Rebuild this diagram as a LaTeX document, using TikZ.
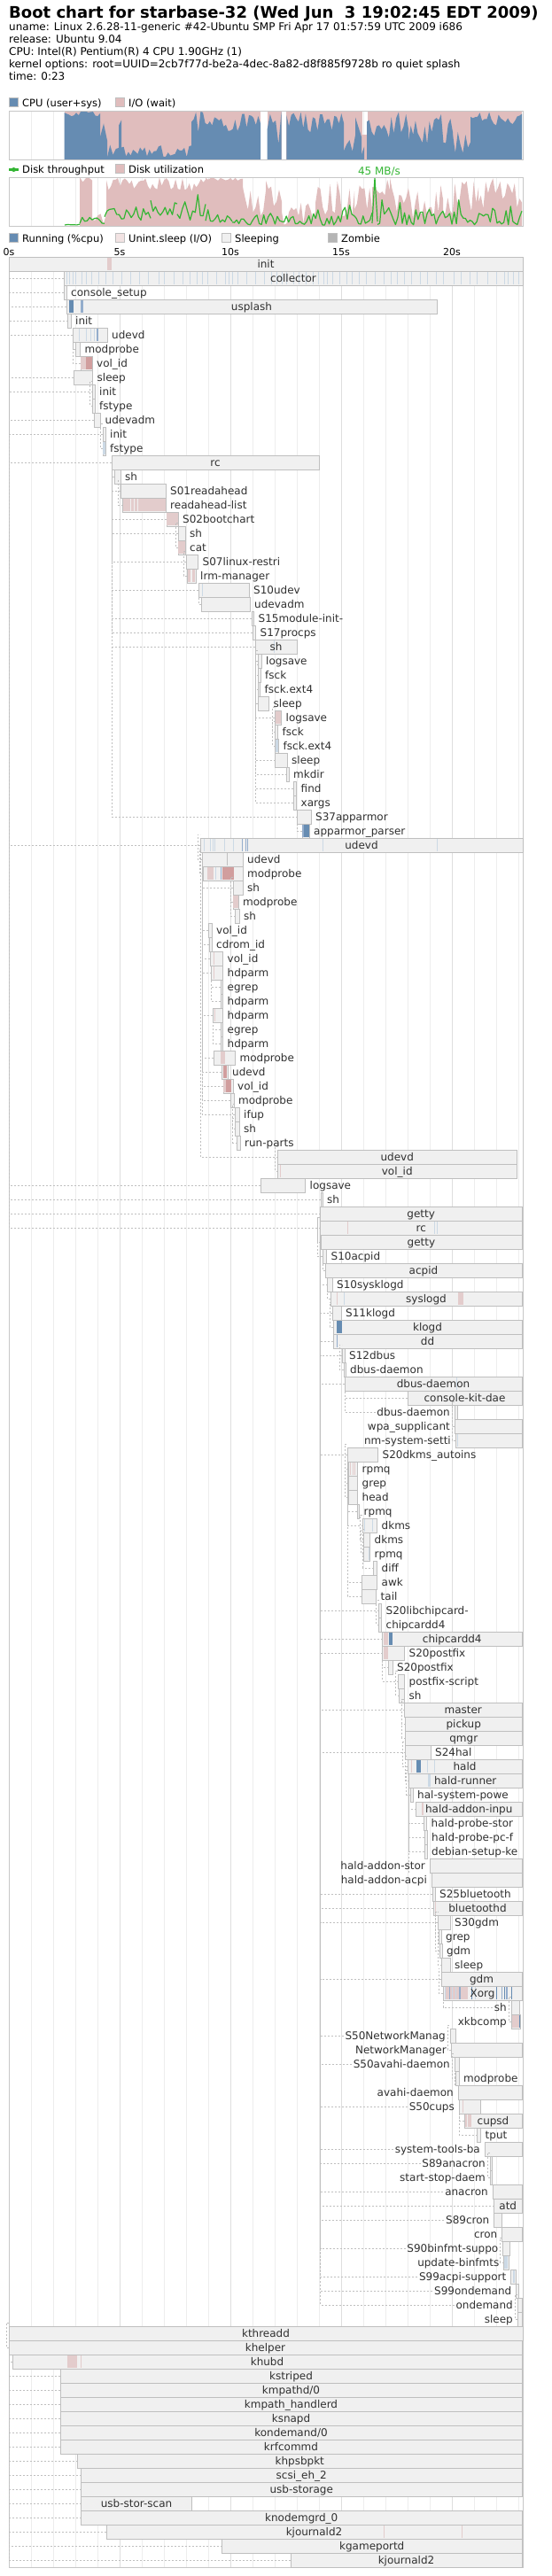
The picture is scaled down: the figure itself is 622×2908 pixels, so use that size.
\documentclass[tikz,border=0pt]{standalone}
\usepackage{fontspec}
\setmainfont{DejaVu Sans}
\usetikzlibrary{calc}

\definecolor{cpuc}{rgb}{0.40,0.55,0.70}
\definecolor{iowait}{rgb}{0.88,0.74,0.74}
\definecolor{diskc}{rgb}{0.20,0.71,0.20}
\definecolor{procS}{gray}{0.94}
\definecolor{procZ}{gray}{0.71}
\definecolor{procD}{rgb}{0.95,0.89,0.89}
\definecolor{pinkL}{rgb}{0.89,0.80,0.80}
\definecolor{pinkD}{rgb}{0.82,0.62,0.62}
\definecolor{lblue}{rgb}{0.80,0.85,0.90}
\definecolor{mblue}{rgb}{0.58,0.68,0.80}
\definecolor{procborder}{gray}{0.75}
\definecolor{chartframe}{gray}{0.78}
\definecolor{gridc}{gray}{0.93}
\definecolor{gridb}{gray}{0.87}
\definecolor{depc}{gray}{0.75}
\definecolor{proctext}{gray}{0.19}

\newcommand\lblfont{\fontsize{12}{14}\selectfont}
\newdimen\lblw \newdimen\boxw \newdimen\tmpd \newdimen\depdx
\newcount\lblmode

\tikzset{
  procbox/.style={fill=procS, draw=procborder, line width=1pt},
  dep/.style={draw=depc, line width=1pt, dash pattern=on 2pt off 2pt},
  lbl/.style={font=\lblfont, text=proctext, inner sep=0pt},
  hdr/.style={font=\fontsize{12}{14}\selectfont, inner sep=0pt, anchor=base west},
  leg/.style={font=\fontsize{11.5}{14}\selectfont, inner sep=0pt, anchor=base west},
  axis/.style={font=\fontsize{11}{13}\selectfont, inner sep=0pt, anchor=base},
  gridline/.style={draw=gridc, line width=1pt},
  gridbold/.style={draw=gridb, line width=1pt},
  frameline/.style={draw=chartframe, line width=1pt},
  tput/.style={draw=diskc, line width=1.2pt, line join=round}
}

% label widths are measured before the picture
\newcommand\prowmeasure[4]{%
  \settowidth\lblw{\lblfont #4}%
  \expandafter\xdef\csname lblw#1\endcsname{\the\lblw}}

% label inside the box, right of it, or left of it
\newcommand\lblplace[3]{%
  \lblw=\csname lblw#1\endcsname\relax
  \boxw=#3pt \advance\boxw by -#2pt
  \tmpd=\lblw \advance\tmpd by 10pt
  \lblmode=0
  \ifdim\tmpd>\boxw
    \lblmode=1
    \tmpd=#3pt \advance\tmpd by 5pt \advance\tmpd by \lblw
    \ifdim\tmpd>590pt \lblmode=2 \fi
  \fi}

\newcommand\prowbox[4]{%
  \pgfmathsetmacro\ptop{274+16*#1}%
  \filldraw[procbox] (#2,\ptop) rectangle (#3,\ptop+16);
  \coordinate (p#1) at (#2,\ptop);
  \lblplace{#1}{#2}{#3}%
  \ifnum\lblmode=2
    \pgfmathsetmacro\sx{#2-7-\lblw}%
    \coordinate (p#1s) at (\sx,\ptop+8);
  \else
    \coordinate (p#1s) at (#2,\ptop+8);
  \fi}

\newcommand\prowlabel[4]{%
  \pgfmathsetmacro\ptop{274+16*#1}%
  \lblplace{#1}{#2}{#3}%
  \ifcase\lblmode
    \node[lbl,anchor=base] (l#1) at ({(#2+#3)/2},\ptop+12) {#4};
  \or
    \node[lbl,anchor=base west] (l#1) at (#3+5,\ptop+12) {#4};
  \else
    \node[lbl,anchor=base east] (l#1) at (#2-5,\ptop+12) {#4};
  \fi}

\newcommand\procact[4]{%
  \pgfmathsetmacro\ptop{274+16*#1}%
  \fill[#4] (#2,\ptop+1) rectangle (#3,\ptop+15);}

% dotted line from a child row to its parent row
\newcommand\procdep[2]{%
  \pgfextractx{\depdx}{\pgfpointanchor{p#1}{center}}%
  \pgfextractx{\boxw}{\pgfpointanchor{p#2}{center}}%
  \advance\depdx by -\boxw
  \ifdim\depdx<0pt \depdx=-\depdx\fi
  \ifdim\depdx<3pt
    \draw[dep] ($(p#1)+(0,8)$) -| ($(p#2)+(-3,-4)$) -- ($(p#2)+(0,-4)$);
  \else
    \pgfextractx{\tmpd}{\pgfpointanchor{p#1s}{center}}%
    \ifdim\tmpd<\boxw
      \draw[dep] (p#1 -| p#2) -- (p#2);
    \else
      \draw[dep] (p#1s) -| (p#2);
    \fi
  \fi}

\newcommand\proctree{%
\prow{1}{10}{590}{init}%
\prow{2}{72}{590}{collector}%
\prow{3}{72}{75}{console\_setup}%
\prow{4}{75}{493}{usplash}%
\prow{5}{76.5}{80}{init}%
\prow{6}{82}{121}{udevd}%
\prow{7}{85}{90.5}{modprobe}%
\prow{8}{91}{104}{vol\_id}%
\prow{9}{83}{104.5}{sleep}%
\prow{10}{104.5}{107}{init}%
\prow{11}{104.5}{107}{fstype}%
\prow{12}{106}{113.5}{udevadm}%
\prow{13}{116}{119}{init}%
\prow{14}{116}{119}{fstype}%
\prow{15}{126}{360}{rc}%
\prow{16}{129}{136}{sh}%
\prow{17}{136}{187}{S01readahead}%
\prow{18}{138.5}{187}{readahead-list}%
\prow{19}{188}{201}{S02bootchart}%
\prow{20}{201}{209}{sh}%
\prow{21}{201}{209}{cat}%
\prow{22}{210}{223.5}{S07linux-restri}%
\prow{23}{211}{221}{lrm-manager}%
\prow{24}{224}{281}{S10udev}%
\prow{25}{227}{282}{udevadm}%
\prow{26}{284}{286.5}{S15module-init-}%
\prow{27}{285}{288.5}{S17procps}%
\prow{28}{288}{335}{sh}%
\prow{29}{291}{295}{logsave}%
\prow{30}{291.5}{294}{fsck}%
\prow{31}{291.5}{293.5}{fsck.ext4}%
\prow{32}{291}{303.5}{sleep}%
\prow{33}{310}{317.5}{logsave}%
\prow{34}{310.5}{313.5}{fsck}%
\prow{35}{310.5}{314.5}{fsck.ext4}%
\prow{36}{310.5}{324}{sleep}%
\prow{37}{323.5}{326}{mkdir}%
\prow{38}{331}{334.5}{find}%
\prow{39}{331}{334.5}{xargs}%
\prow{40}{335.5}{351}{S37apparmor}%
\prow{41}{341}{349}{apparmor\_parser}%
\prow{42}{226}{590}{udevd}%
\prow{43}{228}{274}{udevd}%
\prow{44}{229}{274}{modprobe}%
\prow{45}{263}{274}{sh}%
\prow{46}{263}{269}{modprobe}%
\prow{47}{265.5}{270}{sh}%
\prow{48}{235}{239}{vol\_id}%
\prow{49}{236}{239}{cdrom\_id}%
\prow{50}{237}{251.5}{vol\_id}%
\prow{51}{238.5}{251.5}{hdparm}%
\prow{52}{249}{251.5}{egrep}%
\prow{53}{249}{251.5}{hdparm}%
\prow{54}{240}{251.5}{hdparm}%
\prow{55}{249}{251.5}{egrep}%
\prow{56}{249}{251.5}{hdparm}%
\prow{57}{241}{265.5}{modprobe}%
\prow{58}{250}{257}{udevd}%
\prow{59}{252}{263}{vol\_id}%
\prow{60}{260}{264}{modprobe}%
\prow{61}{265}{270}{ifup}%
\prow{62}{265.5}{270}{sh}%
\prow{63}{267.5}{271}{run-parts}%
\prow{64}{313.5}{583}{udevd}%
\prow{65}{313.5}{583}{vol\_id}%
\prow{66}{294}{344.5}{logsave}%
\prow{67}{362}{364}{sh}%
\prow{68}{361.5}{589}{getty}%
\prow{69}{361.5}{589}{rc}%
\prow{70}{362}{589}{getty}%
\prow{71}{364}{368.5}{S10acpid}%
\prow{72}{367}{589}{acpid}%
\prow{73}{369.5}{375}{S10sysklogd}%
\prow{74}{373}{589}{syslogd}%
\prow{75}{375}{385}{S11klogd}%
\prow{76}{376}{589}{klogd}%
\prow{77}{376}{589}{dd}%
\prow{78}{386}{389}{S12dbus}%
\prow{79}{388}{390}{dbus-daemon}%
\prow{80}{389}{589}{dbus-daemon}%
\prow{81}{460}{589}{console-kit-dae}%
\prow{82}{513}{516}{dbus-daemon}%
\prow{83}{513}{589}{wpa\_supplicant}%
\prow{84}{514}{589}{nm-system-setti}%
\prow{85}{392}{426.5}{S20dkms\_autoins}%
\prow{86}{393}{403.5}{rpmq}%
\prow{87}{393}{403.5}{grep}%
\prow{88}{393}{403.5}{head}%
\prow{89}{403}{405.5}{rpmq}%
\prow{90}{409.5}{425.5}{dkms}%
\prow{91}{410.5}{417.5}{dkms}%
\prow{92}{410.5}{417.5}{rpmq}%
\prow{93}{421.5}{425.5}{diff}%
\prow{94}{408}{425.5}{awk}%
\prow{95}{408}{424.5}{tail}%
\prow{96}{427.5}{430.5}{S20libchipcard-}%
\prow{97}{427.5}{430.5}{chipcardd4}%
\prow{98}{431.5}{589}{chipcardd4}%
\prow{99}{431.5}{456.5}{S20postfix}%
\prow{100}{438.5}{443}{S20postfix}%
\prow{101}{449.5}{456.5}{postfix-script}%
\prow{102}{450.5}{456.5}{sh}%
\prow{103}{456.5}{589}{master}%
\prow{104}{457.5}{589}{pickup}%
\prow{105}{457.5}{589}{qmgr}%
\prow{106}{457.5}{486}{S24hal}%
\prow{107}{460}{589}{hald}%
\prow{108}{461.5}{589}{hald-runner}%
\prow{109}{463}{466}{hal-system-powe}%
\prow{110}{469.5}{589}{hald-addon-inpu}%
\prow{111}{478}{481.5}{hald-probe-stor}%
\prow{112}{479}{482}{hald-probe-pc-f}%
\prow{113}{479}{482}{debian-setup-ke}%
\prow{114}{485}{589}{hald-addon-stor}%
\prow{115}{487}{589}{hald-addon-acpi}%
\prow{116}{488}{491}{S25bluetooth}%
\prow{117}{489}{589}{bluetoothd}%
\prow{118}{494}{508}{S30gdm}%
\prow{119}{495.5}{498}{grep}%
\prow{120}{496.5}{499}{gdm}%
\prow{121}{498.5}{508}{sleep}%
\prow{122}{498}{589}{gdm}%
\prow{123}{500}{589}{Xorg}%
\prow{124}{577}{586.5}{sh}%
\prow{125}{577}{587.5}{xkbcomp}%
\prow{126}{508}{514}{S50NetworkManag}%
\prow{127}{509}{589}{NetworkManager}%
\prow{128}{513}{518}{S50avahi-daemon}%
\prow{129}{514.5}{518}{modprobe}%
\prow{130}{517}{589}{avahi-daemon}%
\prow{131}{518}{542.5}{S50cups}%
\prow{132}{524}{589}{cupsd}%
\prow{133}{538.5}{542.5}{tput}%
\prow{134}{547}{589}{system-tools-ba}%
\prow{135}{553}{555.5}{S89anacron}%
\prow{136}{553}{555.5}{start-stop-daem}%
\prow{137}{556}{589}{anacron}%
\prow{138}{557.5}{589}{atd}%
\prow{139}{557.5}{566.5}{S89cron}%
\prow{140}{566.5}{589}{cron}%
\prow{141}{567.5}{575.5}{S90binfmt-suppo}%
\prow{142}{568.5}{574}{update-binfmts}%
\prow{143}{576.5}{582.5}{S99acpi-support}%
\prow{144}{582.5}{585.5}{S99ondemand}%
\prow{145}{584}{589}{ondemand}%
\prow{146}{584}{589}{sleep}%
\prow{147}{10}{590}{kthreadd}%
\prow{148}{10}{589}{khelper}%
\prow{149}{14}{589}{khubd}%
\prow{150}{68}{589}{kstriped}%
\prow{151}{68}{589}{kmpathd/0}%
\prow{152}{68}{589}{kmpath\_handlerd}%
\prow{153}{68}{589}{ksnapd}%
\prow{154}{68}{589}{kondemand/0}%
\prow{155}{68}{589}{krfcommd}%
\prow{156}{87.5}{589}{khpsbpkt}%
\prow{157}{91.5}{589}{scsi\_eh\_2}%
\prow{158}{91.5}{589}{usb-storage}%
\prow{159}{91.5}{216.5}{usb-stor-scan}%
\prow{160}{91.5}{589}{knodemgrd\_0}%
\prow{161}{120}{589}{kjournald2}%
\prow{162}{250.5}{589}{kgameportd}%
\prow{163}{328}{589}{kjournald2}%
}

\begin{document}
\let\prow\prowmeasure
\proctree
\begin{tikzpicture}[x=1pt,y=-1pt]
\useasboundingbox (0,0) rectangle (622,2908);
\fill[white] (0,0) rectangle (622,2908);

% header
\node[hdr,font=\bfseries\fontsize{18}{22}\selectfont] (title) at (10,20) {Boot chart for starbase-32 (Wed Jun\ \ 3 19:02:45 EDT 2009)};
\node[hdr] (uname) at (10,34.5) {uname: Linux 2.6.28-11-generic \#42-Ubuntu SMP Fri Apr 17 01:57:59 UTC 2009 i686};
\node[hdr] (release) at (10,48.5) {release: Ubuntu 9.04};
\node[hdr] (cpuinfo) at (10,62.5) {CPU: Intel(R) Pentium(R) 4 CPU 1.90GHz (1)};
\node[hdr] (kopts) at (10,76.5) {kernel options: root=UUID=2cb7f77d-be2a-4dec-8a82-d8f885f9728b ro quiet splash};
\node[hdr] (boottime) at (10,90.5) {time: 0:23};

% cpu chart
\filldraw[fill=cpuc,draw=procborder] (10,110) rectangle (20,120);
\node[leg] (lcpu) at (25,120) {CPU (user+sys)};
\filldraw[fill=iowait,draw=procborder] (130,110) rectangle (140,120);
\node[leg] (lio) at (145,120) {I/O (wait)};
\foreach \s in {0,...,23} \draw[gridline] ({10+25*\s},125) -- ++(0,55);
\foreach \s in {0,5,...,20} \draw[gridbold] ({10+25*\s},125) -- ++(0,55);
\fill[iowait] (72.6,125) rectangle (294,180);
\fill[iowait] (301.6,125) rectangle (317.5,180);
\fill[iowait] (323.4,125) rectangle (409,180);
\fill[iowait] (409,152) rectangle (415,180);
\fill[iowait] (415,125) rectangle (589,180);
\pgfmathsetseed{2009}
\foreach \a/\b/\lo/\hi in {72.6/113/0.88/1, 113/121/0.3/1, 121/134/0.04/0.3, 134/137/0.6/0.95, 137/216/0.04/0.3, 216/294/0.55/1, 301.6/317.5/0.3/1, 323.4/388/0.55/1, 388/401/0.1/0.5, 401/408/0.4/1, 408/411/0/0.3, 414/461/0.4/1, 461/511/0.3/1, 511/531/0.1/0.6, 531/589/0.7/1}{
  \pgfmathtruncatemacro\n{max(2,(\b-\a)/2.5)}
  \fill[cpuc] (\a,180) -- plot[domain=\a:\b,samples=\n] (\x,{180-55*(\lo+(\hi-\lo)*rnd)}) -- (\b,180) -- cycle;
}
\draw[frameline] (10,125) rectangle (590,180);

% disk chart
\fill[diskc] (10,190) rectangle (21,193);
\fill[diskc] (15.5,191.5) circle (2.5);
\node[leg] (ltput) at (25,195) {Disk throughput};
\filldraw[fill=iowait,draw=procborder] (130,185) rectangle (140,195);
\node[leg] (lutil) at (145,195) {Disk utilization};
\node[hdr,anchor=base,text=diskc] (tputmax) at (428,197) {45 MB/s};
\foreach \s in {0,...,23} \draw[gridline] ({10+25*\s},200) -- ++(0,55);
\foreach \s in {0,5,...,20} \draw[gridbold] ({10+25*\s},200) -- ++(0,55);
\foreach \a/\b/\lo/\hi in {90/104/0.9/1, 104/120/0/0.25, 120/232/0.7/1, 232/274/0.92/1, 274/300/0.1/0.9, 300/318/0.3/1, 318/356/0/0.5, 356/400/0.1/1, 400/420/0.3/1, 420/440/0.6/1, 440/500/0.1/1, 500/540/0.2/1, 540/589/0.3/1}{
  \pgfmathtruncatemacro\n{max(2,(\b-\a)/2.5)}
  \fill[iowait] (\a,255) -- plot[domain=\a:\b,samples=\n] (\x,{255-55*(\lo+(\hi-\lo)*rnd)}) -- (\b,255) -- cycle;
}
\foreach \a/\b/\lo/\hi in {73/90/0/0.03, 90/118/0.03/0.3, 118/170/0.1/0.55, 170/200/0.2/0.6, 200/232/0.1/0.75, 232/262/0.05/0.35, 262/420/0/0.45, 426/589/0/0.55}{
  \pgfmathtruncatemacro\n{max(2,(\b-\a)/2.5)}
  \draw[tput] plot[domain=\a:\b,samples=\n] (\x,{254-54*(\lo+(\hi-\lo)*rnd*rnd)});
}
\draw[tput] (420,252) -- (423,200.5) -- (426,250);
\draw[frameline] (10,200) rectangle (590,255);

% process chart legend and axis
\filldraw[fill=cpuc,draw=procborder] (10,263) rectangle (20,273);
\node[leg] (lrun) at (25,273) {Running (\%cpu)};
\filldraw[fill=procD,draw=procborder] (130,263) rectangle (140,273);
\node[leg] (lunint) at (145,273) {Unint.sleep (I/O)};
\filldraw[fill=procS,draw=procborder] (250,263) rectangle (260,273);
\node[leg] (lsleep) at (265,273) {Sleeping};
\filldraw[fill=procZ,draw=procborder] (370,263) rectangle (380,273);
\node[leg] (lzombie) at (385,273) {Zombie};
\foreach \s in {0,5,...,20} \node[axis] (s\s) at ({10+25*\s},288) {\s s};
\foreach \s in {0,...,23} \draw[gridline] ({10+25*\s},290) -- (10+25*\s,2898);
\foreach \s in {0,5,...,20} \draw[gridbold] ({10+25*\s},290) -- (10+25*\s,2898);
\draw[frameline] (10,290) rectangle (590,2898);

% process boxes
\let\prow\prowbox
\proctree

% process states
\procact{1}{121}{126}{pinkL}
\foreach \x in {75,78,82,85,92,97,103,111,119,127,137,147,157,167,179,185,196,206,214,222,228,234,244,254,258,262,268,278,288,298,306,312,318,323,331,337,345,353,359,365,369,375,383,391,397,405,413,423,433,441,448,456,464,474,482,492,500,512,520,530,538,550,560,569,573,579,585} \procact{2}{\x}{\x+1}{lblue};
\procact{4}{78}{83}{cpuc}
\procact{4}{90.5}{93.5}{mblue}
\foreach \x in {89,97,102,106} \procact{6}{\x}{\x+1}{lblue};
\procact{6}{108.5}{110.5}{mblue}
\procact{8}{91}{97}{pinkL}
\procact{8}{97}{104}{pinkD}
\procact{14}{116}{119}{lblue}
\procact{18}{138.5}{187}{pinkL}
\foreach \x in {147,151,155} \procact{18}{\x}{\x+1}{procS};
\procact{19}{188}{201}{pinkL}
\procact{21}{201}{209}{pinkL}
\procact{23}{212}{215}{pinkL}
\procact{23}{216.5}{220}{pinkL}
\procact{24}{228}{229}{lblue}
\procact{28}{309}{310}{lblue}
\procact{33}{311}{317}{pinkL}
\procact{35}{311}{314}{lblue}
\procact{41}{341}{343}{mblue}
\procact{41}{343}{349}{cpuc}
\foreach \x in {230,237,240,242,253,263,364,493} \procact{42}{\x}{\x+1}{lblue};
\foreach \x in {273,276.5,279} \procact{42}{\x}{\x+1}{mblue};
\procact{43}{256}{257}{procborder}
\procact{44}{234}{241}{pinkL}
\procact{44}{243}{244}{lblue}
\procact{44}{249}{250}{mblue}
\procact{44}{251}{264}{pinkD}
\procact{46}{263}{269}{pinkL}
\procact{50}{241}{242}{pinkL}
\procact{51}{241}{242}{pinkL}
\procact{54}{241.5}{242.5}{pinkL}
\procact{57}{249}{254}{pinkL}
\procact{58}{252}{256}{pinkD}
\procact{59}{252}{255}{pinkL}
\procact{59}{255}{261}{pinkD}
\procact{65}{316}{317}{pinkL}
\procact{69}{392}{393}{pinkL}
\procact{69}{490}{491}{lblue}
\procact{69}{493}{494}{lblue}
\procact{74}{380}{381}{pinkL}
\procact{74}{388}{389}{lblue}
\procact{74}{517}{522.5}{pinkL}
\procact{76}{380}{386}{cpuc}
\procact{77}{380}{381}{mblue}
\procact{80}{514.5}{515.5}{lblue}
\procact{84}{516}{517}{lblue}
\foreach \x in {395,398,400} \procact{86}{\x}{\x+1}{pinkL};
\procact{90}{410.5}{411.5}{lblue}
\procact{90}{419.5}{420.5}{lblue}
\procact{92}{415.5}{416.5}{lblue}
\procact{98}{432.5}{437.5}{pinkL}
\procact{98}{439}{443}{cpuc}
\procact{99}{433}{437.5}{pinkL}
\procact{107}{464}{465}{pinkL}
\procact{107}{469.5}{475}{cpuc}
\procact{107}{481.5}{482.5}{lblue}
\procact{107}{490}{491}{lblue}
\procact{108}{483}{486}{lblue}
\procact{110}{475.5}{478}{pinkL}
\procact{117}{491}{492}{pinkL}
\procact{123}{502}{528}{pinkL}
\foreach \x in {502,510,514,535.7} \procact{123}{\x}{\x+1}{lblue};
\foreach \x in {506.7,518,565.5,571.4} \procact{123}{\x}{\x+1.5}{mblue};
\foreach \x in {531.7,559.5,568.7,576.6} \procact{123}{\x}{\x+1.5}{cpuc};
\procact{125}{578}{586}{pinkL}
\procact{125}{586}{587}{cpuc}
\procact{131}{522}{523}{pinkL}
\procact{132}{524.5}{527}{pinkL}
\procact{132}{528}{531.5}{pinkL}
\procact{142}{569}{573}{lblue}
\procact{143}{579}{581}{lblue}
\procact{149}{75.5}{86.5}{pinkL}
\procact{149}{90.5}{91.5}{pinkL}
\procact{161}{432.5}{433.5}{pinkL}
\procact{161}{521}{522}{pinkL}

% parent links
\foreach \c/\p in {2/1,3/1,4/1,5/1,6/1,7/6,8/6,9/1,10/1,11/10,12/1,13/1,14/13,15/1,16/15,17/15,18/17,19/15,20/15,21/20,22/15,23/22,24/15,25/24,26/15,27/15,28/15,29/28,30/29,31/30,32/28,33/28,34/33,35/34,36/28,37/28,38/28,39/28,40/15,41/40,42/1,43/42,44/43,45/43,46/45,47/46,48/43,49/43,50/43,51/43,52/51,53/51,54/43,55/54,56/54,57/43,58/43,59/43,60/43,61/43,62/61,63/62,64/42,65/64,66/1,67/1,68/1,69/1,70/69,71/69,72/71,73/69,74/73,75/69,76/75,77/69,78/69,79/78,80/69,81/80,82/80,83/82,84/82,85/69,86/85,87/85,88/85,89/85,90/85,91/90,92/91,93/90,94/85,95/85,96/69,97/96,98/69,99/69,100/99,101/99,102/101,103/69,104/103,105/103,106/69,107/106,108/107,109/108,110/108,111/108,112/108,113/108,114/108,115/108,116/69,117/69,118/69,119/118,120/118,121/118,122/69,123/122,124/123,125/124,126/69,127/126,128/69,129/128,130/128,131/69,132/131,133/131,134/69,135/69,136/135,137/69,138/69,139/69,140/139,141/69,142/141,143/69,144/69,145/69,146/145,148/147,149/147,150/147,151/147,152/147,153/147,154/147,155/147,156/147,157/147,158/147,159/147,160/147,161/147,162/147,163/147}
  \procdep{\c}{\p};

% process names
\let\prow\prowlabel
\proctree
\end{tikzpicture}
\end{document}
